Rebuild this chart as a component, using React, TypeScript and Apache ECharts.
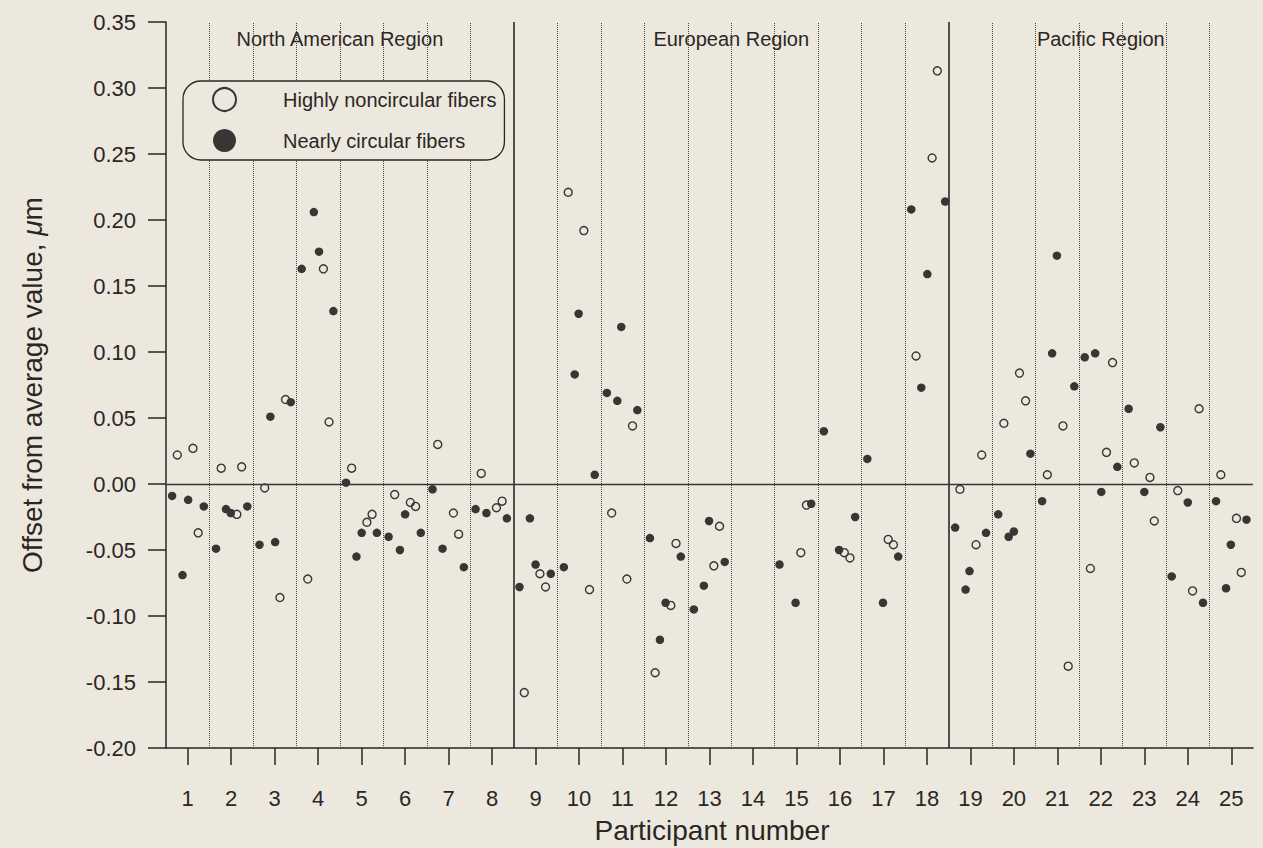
import React, { useEffect, useRef } from 'react';
import * as echarts from 'echarts';

// ---- data ----
const participants = [1, 2, 3, 4, 5, 6, 7, 8, 9, 10, 11, 12, 13, 14, 15, 16, 17, 18, 19, 20, 21, 22, 23, 24, 25];
const participantDividers = [1.5, 2.5, 3.5, 4.5, 5.5, 6.5, 7.5, 9.5, 10.5, 11.5, 12.5, 13.5, 14.5, 15.5, 16.5, 17.5, 19.5, 20.5, 21.5, 22.5, 23.5, 24.5];
const regionDividers = [8.5, 18.5];
const regionNames = ['North American Region', 'European Region', 'Pacific Region'];
const regionCenters = [4.5, 13.5, 22];

// Highly noncircular fibers (open circles): position along participant axis, offset (um)
const noncircX = [
  0.76, 1.12, 1.24, 1.77, 2.13, 2.24, 2.77, 3.12, 3.25, 3.76, 4.12, 4.25,
  4.77, 5.12, 5.24, 5.76, 6.12, 6.24, 6.75, 7.11, 7.23, 7.75, 8.10, 8.23,
  8.74, 9.10, 9.23, 9.75, 10.11, 10.24, 10.75, 11.10, 11.23, 11.75, 12.11, 12.23,
  13.10, 13.23, 15.10, 15.23, 16.10, 16.23, 17.11, 17.23, 17.75, 18.12, 18.24,
  18.76, 19.13, 19.26, 19.77, 20.13, 20.27, 20.77, 21.13, 21.25, 21.76, 22.13, 22.27,
  22.77, 23.13, 23.23, 23.77, 24.11, 24.26, 24.76, 25.12, 25.23,
];
const noncircY = [
  0.022, 0.027, -0.037, 0.012, -0.023, 0.013, -0.003, -0.086, 0.064, -0.072, 0.163, 0.047,
  0.012, -0.029, -0.023, -0.008, -0.014, -0.017, 0.030, -0.022, -0.038, 0.008, -0.018, -0.013,
  -0.158, -0.068, -0.078, 0.221, 0.192, -0.080, -0.022, -0.072, 0.044, -0.143, -0.092, -0.045,
  -0.062, -0.032, -0.052, -0.016, -0.052, -0.056, -0.042, -0.046, 0.097, 0.247, 0.313,
  -0.004, -0.046, 0.022, 0.046, 0.084, 0.063, 0.007, 0.044, -0.138, -0.064, 0.024, 0.092,
  0.016, 0.005, -0.028, -0.005, -0.081, 0.057, 0.007, -0.026, -0.067,
];

// Nearly circular fibers (filled circles)
const circX = [
  0.64, 0.88, 1.01, 1.37, 1.65, 1.88, 1.99, 2.37, 2.65, 2.90, 3.01, 3.37,
  3.62, 3.90, 4.02, 4.35, 4.64, 4.88, 5.00, 5.35, 5.62, 5.88, 6.00, 6.36,
  6.63, 6.86, 7.35, 7.62, 7.87, 8.34, 8.63, 8.87, 9.00, 9.35, 9.65, 9.90, 9.99, 10.36,
  10.64, 10.88, 10.97, 11.34, 11.63, 11.86, 11.99, 12.34, 12.64, 12.87, 12.99, 13.35,
  14.61, 14.98, 15.34, 15.63, 15.98, 16.35, 16.63, 16.99, 17.34, 17.64, 17.87, 18.01, 18.42,
  18.65, 18.89, 18.98, 19.36, 19.64, 19.88, 20.00, 20.38, 20.65, 20.88, 20.99, 21.39,
  21.63, 21.87, 22.01, 22.38, 22.64, 23.00, 23.37, 23.63, 24.00, 24.35, 24.65, 24.88, 24.99, 25.35,
];
const circY = [
  -0.009, -0.069, -0.012, -0.017, -0.049, -0.019, -0.022, -0.017, -0.046, 0.051, -0.044, 0.062,
  0.163, 0.206, 0.176, 0.131, 0.001, -0.055, -0.037, -0.037, -0.040, -0.050, -0.023, -0.037,
  -0.004, -0.049, -0.063, -0.019, -0.022, -0.026, -0.078, -0.026, -0.061, -0.068, -0.063, 0.083, 0.129, 0.007,
  0.069, 0.063, 0.119, 0.056, -0.041, -0.118, -0.090, -0.055, -0.095, -0.077, -0.028, -0.059,
  -0.061, -0.090, -0.015, 0.040, -0.050, -0.025, 0.019, -0.090, -0.055, 0.208, 0.073, 0.159, 0.214,
  -0.033, -0.080, -0.066, -0.037, -0.023, -0.040, -0.036, 0.023, -0.013, 0.099, 0.173, 0.074,
  0.096, 0.099, -0.006, 0.013, 0.057, -0.006, 0.043, -0.070, -0.014, -0.090, -0.013, -0.079, -0.046, -0.027,
];

const BG = '#ece8dd';
const INK = '#2b2626';
const DOT = '#3a3434';
const FONT = "'Liberation Sans', Arial, sans-serif";

export default function App() {
  const ref = useRef<HTMLDivElement>(null);
  useEffect(() => {
    document.body.style.margin = '0';
    document.body.style.background = BG;
    const chart = echarts.init(ref.current!, null, { renderer: 'svg' });
    const option: any = {
      animation: false,
      backgroundColor: BG,
      textStyle: { fontFamily: FONT, color: INK },
      grid: { left: 166, right: 10, top: 22, bottom: 100 },
      legend: {
        data: ['Highly noncircular fibers', 'Nearly circular fibers'],
        orient: 'vertical',
        left: 183,
        top: 81,
        icon: 'circle',
        itemWidth: 23,
        itemHeight: 23,
        itemGap: 17,
        padding: [6, 8, 8, 29],
        backgroundColor: BG,
        borderColor: INK,
        borderWidth: 1.3,
        borderRadius: 18,
        selectedMode: false,
        textStyle: { fontSize: 20, color: INK, fontFamily: FONT, padding: [0, 0, 0, 42] },
        z: 10,
      },
      xAxis: {
        type: 'value',
        min: 0.5,
        max: 25.5,
        splitLine: { show: false },
        axisLine: { onZero: false, lineStyle: { color: INK, width: 1.5 } },
        axisTick: { show: true, length: 17, lineStyle: { color: INK, width: 1.5 }, customValues: participants },
        axisLabel: { customValues: participants, fontSize: 22, color: INK, margin: 39, fontFamily: FONT },
      },
      yAxis: {
        type: 'value',
        min: -0.2,
        max: 0.35,
        interval: 0.05,
        splitLine: { show: false },
        axisLine: { show: true, onZero: false, lineStyle: { color: INK, width: 1.5 } },
        axisTick: { show: true, length: 18, lineStyle: { color: INK, width: 1.5 } },
        axisLabel: {
          fontSize: 22,
          color: INK,
          margin: 30,
          fontFamily: FONT,
          formatter: (v: number) => (Math.abs(v) < 1e-9 ? '0.00' : v.toFixed(2)),
        },
      },
      graphic: [
        {
          type: 'text',
          x: 32,
          y: 385,
          rotation: Math.PI / 2,
          style: {
            text: 'Offset from average value, {i|μ}m',
            fontSize: 28,
            fontFamily: FONT,
            fill: INK,
            textAlign: 'center',
            textVerticalAlign: 'middle',
            rich: { i: { fontStyle: 'italic', fontSize: 28, fontFamily: FONT, fill: INK } },
          },
        },
        {
          type: 'text',
          x: 712,
          y: 830,
          style: {
            text: 'Participant number',
            fontSize: 28,
            fontFamily: FONT,
            fill: INK,
            textAlign: 'center',
            textVerticalAlign: 'middle',
          },
        },
      ],
      series: [
        {
          name: 'guides',
          type: 'scatter',
          data: [],
          z: 1,
          silent: true,
          markLine: {
            silent: true,
            symbol: 'none',
            label: { show: false },
            animation: false,
            data: [
              ...participantDividers.map((x) => ({ xAxis: x, lineStyle: { type: 'dotted', color: '#4a4444', width: 1 } })),
              ...regionDividers.map((x) => ({ xAxis: x, lineStyle: { type: 'solid', color: INK, width: 1.6 } })),
              { yAxis: 0, lineStyle: { type: 'solid', color: '#3a3434', width: 1.3 } },
            ],
          },
        },
        {
          name: 'regions',
          type: 'scatter',
          silent: true,
          symbolSize: 0,
          z: 3,
          itemStyle: { opacity: 1 },
          data: regionCenters.map((c, i) => [c, 0.337, regionNames[i]]),
          label: {
            show: true,
            position: 'inside',
            formatter: (p: any) => p.data[2],
            fontSize: 20,
            color: INK,
            fontFamily: FONT,
          },
        },
        {
          name: 'Highly noncircular fibers',
          type: 'scatter',
          symbol: 'circle',
          symbolSize: 8,
          z: 4,
          data: noncircX.map((x, i) => [x, noncircY[i]]),
          itemStyle: { color: 'rgba(0,0,0,0)', borderColor: DOT, borderWidth: 1.4, opacity: 1 },
        },
        {
          name: 'Nearly circular fibers',
          type: 'scatter',
          symbol: 'circle',
          symbolSize: 8.5,
          z: 5,
          data: circX.map((x, i) => [x, circY[i]]),
          itemStyle: { color: DOT, opacity: 1 },
        },
      ],
    };
    chart.setOption(option);
    return () => chart.dispose();
  }, []);
  return <div ref={ref} style={{ position: 'absolute', left: 0, top: 0, width: 1263, height: 848 }} />;
}
